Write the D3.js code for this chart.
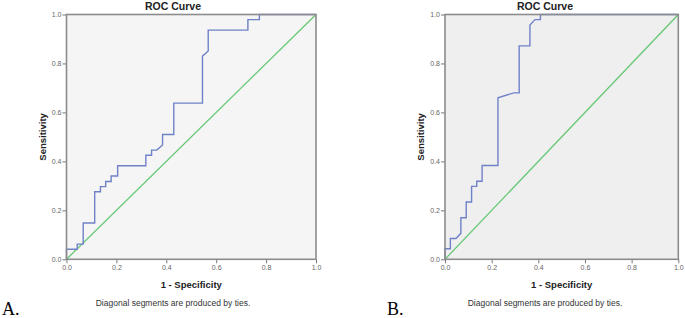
<!DOCTYPE html>
<html>
<head>
<meta charset="utf-8">
<script src="https://cdn.jsdelivr.net/npm/d3@7"></script>
<style>
  body { margin: 0; background: #fff; }
  svg { display: block; }
  .tick-label { font-family: "Liberation Sans", Arial, sans-serif; font-size: 7px; fill: #666; }
  .axis-title { font-family: "Liberation Sans", Arial, sans-serif; font-size: 9.5px; font-weight: bold; fill: #222; }
  .chart-title { font-family: "Liberation Sans", Arial, sans-serif; font-size: 10.5px; font-weight: bold; fill: #222; }
  .footnote { font-family: "Liberation Sans", Arial, sans-serif; font-size: 8.5px; fill: #333; }
  .panel-label { font-family: "Liberation Serif", "Times New Roman", serif; font-size: 18px; fill: #000; }
</style>
</head>
<body>
<svg id="svg"></svg>
<script>
// ROC points (1 - specificity, sensitivity)
const fprA = [0, 0, 0.043, 0.043, 0.067, 0.067, 0.113, 0.113, 0.136, 0.136, 0.157, 0.157, 0.179, 0.179, 0.205, 0.205,
              0.318, 0.318, 0.341, 0.341, 0.362, 0.385, 0.385, 0.43, 0.43, 0.545, 0.545, 0.568, 0.568, 0.727, 0.727, 0.773, 0.773, 1];
const tprA = [0, 0.041, 0.041, 0.062, 0.062, 0.148, 0.148, 0.276, 0.276, 0.297, 0.297, 0.318, 0.318, 0.34, 0.34, 0.382,
              0.382, 0.425, 0.425, 0.446, 0.446, 0.467, 0.51, 0.51, 0.638, 0.638, 0.83, 0.851, 0.936, 0.936, 0.979, 0.979, 1, 1];

const fprB = [0, 0, 0.023, 0.023, 0.047, 0.068, 0.068, 0.091, 0.091, 0.114, 0.114, 0.136, 0.136, 0.159, 0.159, 0.227,
              0.227, 0.295, 0.318, 0.318, 0.364, 0.364, 0.386, 0.409, 0.409, 1];
const tprB = [0, 0.043, 0.043, 0.085, 0.085, 0.106, 0.17, 0.17, 0.234, 0.234, 0.298, 0.298, 0.319, 0.319, 0.383, 0.383,
              0.66, 0.68, 0.68, 0.872, 0.872, 0.957, 0.979, 0.979, 1, 1];

const ticks = [0, 0.2, 0.4, 0.6, 0.8, 1.0];

let w = 685, h = 318;
let svg = d3.select("#svg").attr("width", w).attr("height", h);

function drawPanel(opts) {
  let x = d3.scaleLinear().domain([0, 1]).range([opts.left, opts.right]);
  let y = d3.scaleLinear().domain([0, 1]).range([opts.bottom, opts.top]);
  let g = svg.append("g");

  // plot background
  g.append("rect")
    .attr("x", x(0)).attr("y", y(1))
    .attr("width", x(1) - x(0)).attr("height", y(0) - y(1))
    .attr("fill", opts.bg);

  // axes
  let yAxis = d3.axisLeft(y).tickValues(ticks).tickFormat(d3.format(".1f")).tickSize(4).tickPadding(1);
  let xAxis = d3.axisBottom(x).tickValues(ticks).tickFormat(d3.format(".1f")).tickSize(4).tickPadding(2);
  let ya = g.append("g").attr("transform", `translate(${x(0)},0)`).call(yAxis);
  let xa = g.append("g").attr("transform", `translate(0,${y(0)})`).call(xAxis);
  [ya, xa].forEach(a => {
    a.select(".domain").remove();
    a.selectAll("line").attr("stroke", "#777");
    a.selectAll("text").attr("class", "tick-label").attr("fill", null);
  });

  // diagonal reference line
  g.append("line")
    .attr("x1", x(0)).attr("y1", y(0)).attr("x2", x(1)).attr("y2", y(1))
    .attr("stroke", "#66c875").attr("stroke-width", 1.3);

  // ROC curve
  let line = d3.line().x(i => x(opts.fpr[i])).y(i => y(opts.tpr[i]));
  g.append("path")
    .datum(d3.range(opts.fpr.length))
    .attr("d", line)
    .attr("fill", "none")
    .attr("stroke", "#6f82c8")
    .attr("stroke-width", 1.4);

  // frame
  g.append("rect")
    .attr("x", x(0)).attr("y", y(1))
    .attr("width", x(1) - x(0)).attr("height", y(0) - y(1))
    .attr("fill", "none").attr("stroke", "#8c8c8c").attr("stroke-width", 1.6);

  // texts
  g.append("text").attr("class", "chart-title").attr("text-anchor", "middle")
    .attr("x", opts.titleX).attr("y", 10).text("ROC Curve");
  g.append("text").attr("class", "axis-title").attr("text-anchor", "middle")
    .attr("transform", `translate(${opts.left - 21},${(opts.top + opts.bottom) / 2}) rotate(-90)`)
    .text("Sensitivity");
  g.append("text").attr("class", "axis-title").attr("text-anchor", "middle")
    .attr("x", (opts.left + opts.right) / 2).attr("y", 288).text("1 - Specificity");
  g.append("text").attr("class", "footnote").attr("text-anchor", "middle")
    .attr("x", opts.titleX).attr("y", 306).text("Diagonal segments are produced by ties.");
  g.append("text").attr("class", "panel-label")
    .attr("x", opts.labelX).attr("y", 315).text(opts.label);
}

drawPanel({ fpr: fprA, tpr: tprA, left: 66.5, right: 316, top: 14.5, bottom: 259.3,
            bg: "#f5f5f5", titleX: 173, labelX: 2, label: "A." });
drawPanel({ fpr: fprB, tpr: tprB, left: 445, right: 678.3, top: 14.5, bottom: 259.3,
            bg: "#efefef", titleX: 545, labelX: 387, label: "B." });
</script>
</body>
</html>
